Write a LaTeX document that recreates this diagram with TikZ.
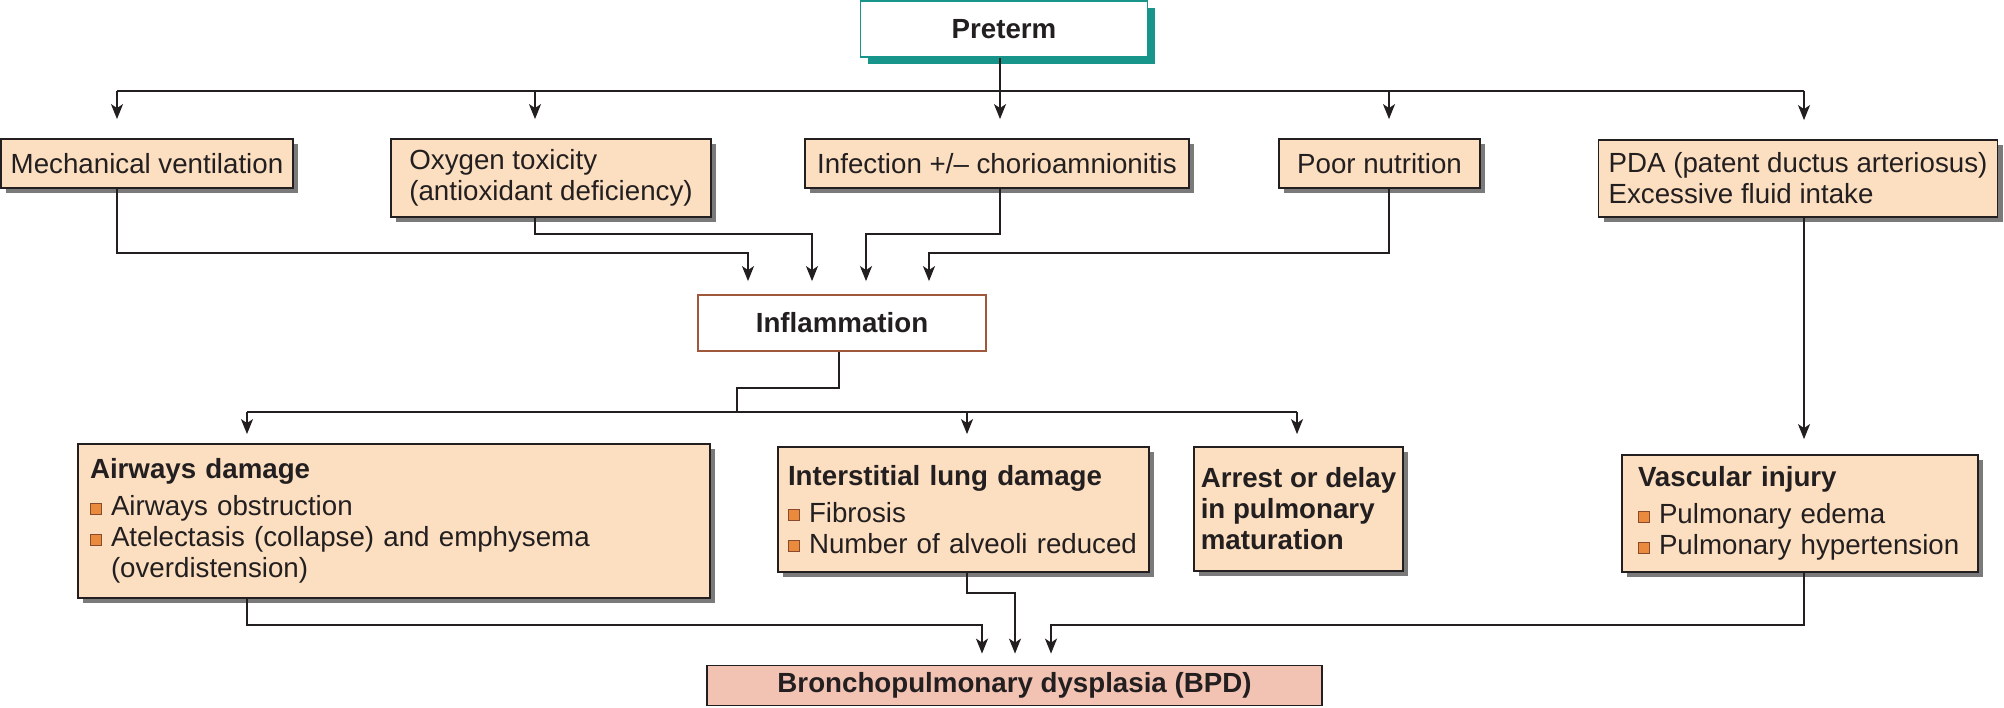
\documentclass[tikz,border=0pt]{standalone}
\usepackage{fontspec}
\setmainfont{Liberation Sans}
\usetikzlibrary{arrows.meta,shadows}
\definecolor{peach}{HTML}{FCDFC0}
\definecolor{salmon}{HTML}{F2C3B3}
\definecolor{tealc}{HTML}{17958A}
\definecolor{brownb}{HTML}{A0583C}
\definecolor{ink}{HTML}{231F20}
\definecolor{bulo}{HTML}{E98A3C}
\definecolor{bulb}{HTML}{8A4A2E}
\definecolor{shd}{HTML}{7A7A7A}
\newcommand{\bul}{\raisebox{1pt}{\rlap{\color{bulb}\rule{12pt}{12pt}}\hspace{1pt}\color{bulo}\rule[1pt]{10pt}{10pt}\hspace{1pt}}\hspace{9pt}}
\tikzset{
  box/.style={draw=ink, line width=1.8pt, fill=peach, inner sep=0pt, align=left,
    drop shadow={shadow xshift=5pt, shadow yshift=-5pt, fill=shd, opacity=1}},
  ln/.style={draw=ink, line width=1.8pt},
  arr/.style={ln, -{Stealth[length=15pt,width=12pt,inset=4pt]}},
  every node/.style={font=\fontsize{27.7}{31}\selectfont, text=ink}
}
\begin{document}
\begin{tikzpicture}[x=1pt,y=-1pt]
\useasboundingbox (0,0) rectangle (2004,708);
% nodes
\node[draw=tealc, line width=1.6pt, fill=white, inner sep=0pt,
  drop shadow={shadow xshift=7pt, shadow yshift=-7pt, fill=tealc, opacity=1},
  minimum width=287pt, minimum height=56pt] (pre) at (1004,29) {\bfseries Preterm};
\node[box, minimum width=292pt, minimum height=49pt] (mech) at (147,163.5) {Mechanical ventilation};
\node[box, minimum width=320pt, minimum height=78pt] (oxy) at (551,178) {Oxygen toxicity\\(antioxidant deficiency)};
\node[box, minimum width=384pt, minimum height=49pt] (inf) at (997,163.5) {Infection +/-- chorioamnionitis};
\node[box, minimum width=201pt, minimum height=49pt] (nut) at (1379.5,163.5) {Poor nutrition};
\node[box, minimum width=399pt, minimum height=77pt] (pda) at (1798,178.5) {PDA (patent ductus arteriosus)\\Excessive fluid intake};
\node[draw=brownb, line width=1.8pt, fill=white, inner sep=0pt,
  minimum width=288pt, minimum height=56pt] (infl) at (842,323) {\bfseries Inflammation};
\node[box, text width=608pt, inner xsep=12pt, minimum height=154pt] (air) at (394,521)
  {\textbf{Airways damage}\\[6pt]\bul Airways obstruction\\\bul Atelectasis (collapse) and emphysema\\\hspace*{21pt}(overdistension)};
\node[box, text width=351pt, inner xsep=10pt, minimum height=125pt] (int) at (963.5,509.5)
  {\textbf{Interstitial lung damage}\\[6pt]\bul Fibrosis\\\bul \mbox{Number of alveoli reduced}};
\node[box, minimum width=209pt, minimum height=124pt] (arr) at (1298.5,509)
  {\textbf{Arrest or delay}\\\textbf{in pulmonary}\\\textbf{maturation}};
\node[box, text width=324pt, inner xsep=16pt, minimum height=117pt] (vas) at (1800,513.5)
  {\textbf{Vascular injury}\\[6pt]\bul Pulmonary edema\\\bul Pulmonary hypertension};
\node[draw=ink, line width=1.8pt, fill=salmon, inner sep=0pt,
  minimum width=615pt, minimum height=40pt] (bpd) at (1014.5,685.5) {\bfseries Bronchopulmonary dysplasia (BPD)};
% columns and levels
\coordinate (cA) at (117,0);
\coordinate (cB) at (535,0);
\coordinate (cC) at (1000,0);
\coordinate (cD) at (1389,0);
\coordinate (cE) at (1804,0);
\coordinate (m1) at (748,0);
\coordinate (m2) at (812,0);
\coordinate (m3) at (866,0);
\coordinate (m4) at (929,0);
\coordinate (cI) at (839,0);
\coordinate (j2) at (737,0);
\coordinate (r1) at (247,0);
\coordinate (r2) at (967,0);
\coordinate (r3) at (1297,0);
\coordinate (b1) at (982,0);
\coordinate (b2) at (1015,0);
\coordinate (b3) at (1051,0);
\coordinate (bus1) at (0,91);
\coordinate (yA) at (0,253);
\coordinate (yB) at (0,234);
\coordinate (yI) at (0,388);
\coordinate (bus2) at (0,412);
\coordinate (yC) at (0,625);
\coordinate (yD) at (0,593);
% top distribution
\draw[ln] (cC |- pre.south) -- (cC |- bus1);
\draw[ln] (cA |- bus1) -- (cE |- bus1);
\foreach \c/\n in {cA/mech,cB/oxy,cC/inf,cD/nut,cE/pda}
  \draw[arr, shorten >=19pt] (\c |- bus1) -- (\c |- \n.north);
% into inflammation
\draw[arr, shorten >=13pt] (cA |- mech.south) -- (cA |- yA) -- (m1 |- yA) -- (m1 |- infl.north);
\draw[arr, shorten >=13pt] (cB |- oxy.south) -- (cB |- yB) -- (m2 |- yB) -- (m2 |- infl.north);
\draw[arr, shorten >=13pt] (cC |- inf.south) -- (cC |- yB) -- (m3 |- yB) -- (m3 |- infl.north);
\draw[arr, shorten >=13pt] (cD |- nut.south) -- (cD |- yA) -- (m4 |- yA) -- (m4 |- infl.north);
% PDA to vascular
\draw[arr, shorten >=15pt] (cE |- pda.south) -- (cE |- vas.north);
% inflammation out
\draw[ln] (cI |- infl.south) -- (cI |- yI) -- (j2 |- yI) -- (j2 |- bus2);
\draw[ln] (r1 |- bus2) -- (r3 |- bus2);
\draw[arr, shorten >=9pt] (r1 |- bus2) -- (r1 |- air.north);
\draw[arr, shorten >=12pt] (r2 |- bus2) -- (r2 |- int.north);
\draw[arr, shorten >=12pt] (r3 |- bus2) -- (r3 |- arr.north);
% to BPD
\draw[arr, shorten >=11pt] (r1 |- air.south) -- (r1 |- yC) -- (b1 |- yC) -- (b1 |- bpd.north);
\draw[arr, shorten >=11pt] (r2 |- int.south) -- (r2 |- yD) -- (b2 |- yD) -- (b2 |- bpd.north);
\draw[arr, shorten >=11pt] (cE |- vas.south) -- (cE |- yC) -- (b3 |- yC) -- (b3 |- bpd.north);
\end{tikzpicture}
\end{document}
